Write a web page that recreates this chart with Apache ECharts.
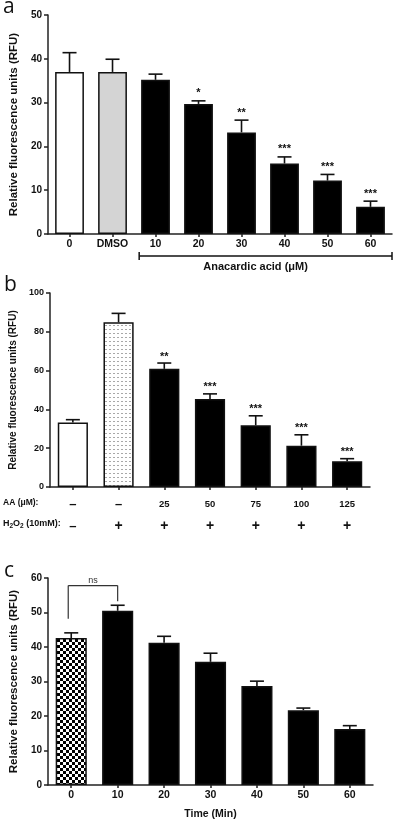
<!DOCTYPE html>
<html>
<head>
<meta charset="utf-8">
<script src="https://cdn.jsdelivr.net/npm/echarts@6/dist/echarts.min.js"></script>
<style>
  html, body { margin: 0; padding: 0; background: #fff; }
  #chart { width: 394px; height: 821px; }
</style>
</head>
<body>
<div id="chart"></div>
<script>
// panel a
var catA = ['0', 'DMSO', '10', '20', '30', '40', '50', '60'];
var meanA = [37.0, 37.0, 35.2, 29.7, 23.2, 16.1, 12.2, 6.2];
var semA = [4.4, 2.9, 1.3, 0.7, 2.8, 1.5, 1.4, 1.3];
var starA = ['', '', '', '*', '**', '***', '***', '***'];

// panel b
var aaB = ['–', '–', '25', '50', '75', '100', '125'];
var h2o2B = ['–', '+', '+', '+', '+', '+', '+'];
var meanB = [33.2, 84.9, 60.9, 45.3, 31.8, 21.3, 13.3];
var semB = [1.5, 4.6, 3.0, 2.7, 4.9, 5.6, 1.3];
var starB = ['', '', '**', '***', '***', '***', '***'];

// panel c
var catC = ['0', '10', '20', '30', '40', '50', '60'];
var meanC = [42.6, 50.5, 41.2, 35.7, 28.7, 21.7, 16.2];
var semC = [1.5, 1.6, 1.9, 2.5, 1.4, 0.6, 1.0];

var FONT = 'Liberation Sans, Arial, sans-serif';
var INK = '#111';

function pattern(kind) {
  var c = document.createElement('canvas');
  var g = c.getContext('2d');
  if (kind === 'checker') {
    c.width = 6; c.height = 6;
    g.fillStyle = '#fff'; g.fillRect(0, 0, 6, 6);
    g.fillStyle = '#000'; g.fillRect(0, 0, 3, 3); g.fillRect(3, 3, 3, 3);
  } else {
    c.width = 4; c.height = 4;
    g.fillStyle = '#fff'; g.fillRect(0, 0, 4, 4);
    g.fillStyle = '#a8a8a8'; g.fillRect(1, 1, 2, 1);
  }
  return { image: c, repeat: 'repeat' };
}

function barData(values, fills) {
  return values.map(function (v, i) {
    return { value: v, itemStyle: { color: fills[i] || '#000' } };
  });
}

function errSeries(gi, means, sems, stars, starGap) {
  return {
    type: 'custom',
    xAxisIndex: gi, yAxisIndex: gi,
    z: 5,
    data: means.map(function (m, i) { return [i, m, sems[i]]; }),
    renderItem: function (params, api) {
      var i = api.value(0), m = api.value(1), e = api.value(2);
      var base = api.coord([i, m]);
      var top = api.coord([i, m + e]);
      var ls = { stroke: INK, lineWidth: 1.6 };
      var kids = [
        { type: 'line', shape: { x1: base[0], y1: base[1], x2: top[0], y2: top[1] }, style: ls },
        { type: 'line', shape: { x1: top[0] - 7, y1: top[1], x2: top[0] + 7, y2: top[1] }, style: ls }
      ];
      var s = stars ? stars[params.dataIndex] : '';
      if (s) {
        kids.push({
          type: 'text',
          style: {
            text: s, x: top[0], y: top[1] - starGap,
            align: 'center', verticalAlign: 'bottom',
            textAlign: 'center', textVerticalAlign: 'bottom',
            font: 'bold 11px ' + FONT, fill: INK
          }
        });
      }
      return { type: 'group', children: kids };
    }
  };
}

function yAx(gi, max, interval, fs, gap, nfs) {
  return {
    gridIndex: gi, type: 'value', min: 0, max: max, interval: interval,
    name: 'Relative fluorescence units (RFU)',
    nameLocation: 'middle', nameRotate: 90, nameGap: gap,
    nameTextStyle: { fontFamily: FONT, fontWeight: 'bold', fontSize: nfs, color: INK },
    axisLine: { show: true, lineStyle: { color: '#222', width: 1.5 } },
    axisTick: { show: true, length: 4, lineStyle: { color: '#222', width: 1.5 } },
    axisLabel: { fontFamily: FONT, fontWeight: 'bold', fontSize: fs, color: INK, margin: 6 },
    splitLine: { show: false }
  };
}

function xAx(gi, cats, extra) {
  var ax = {
    gridIndex: gi, type: 'category', data: cats,
    axisLine: { show: true, onZero: false, lineStyle: { color: '#222', width: 1.5 } },
    axisTick: { show: true, alignWithLabel: true, length: 3, lineStyle: { color: '#222', width: 1.5 } },
    axisLabel: { fontFamily: FONT, fontWeight: 'bold', fontSize: 10.5, color: INK, margin: 5, interval: 0 },
    splitLine: { show: false }
  };
  if (extra) { for (var k in extra) ax[k] = extra[k]; }
  return ax;
}

var barStyle = { borderColor: INK, borderWidth: 1.5 };

var chart = echarts.init(document.getElementById('chart'), null, { renderer: 'canvas' });

chart.setOption({
  animation: false,
  backgroundColor: '#fff',
  textStyle: { fontFamily: FONT },
  grid: [
    { left: 48, right: 2, top: 15, height: 219 },
    { left: 50, right: 24, top: 293, height: 194 },
    { left: 48, right: 21, top: 578, height: 211 }
  ],
  xAxis: [
    xAx(0, catA),
    xAx(1, aaB, {
      axisLabel: {
        interval: 0, margin: 6, color: INK, fontFamily: FONT,
        formatter: function (v, idx) {
          function tag(s) {
            if (s === '+') return '{p|+}';
            if (s === '–') return '{m|–}';
            return '{n|' + s + '}';
          }
          return tag(aaB[idx]) + '\n' + tag(h2o2B[idx]);
        },
        rich: {
          n: { fontFamily: FONT, fontWeight: 'bold', fontSize: 9.5, color: INK, lineHeight: 22 },
          m: { fontFamily: FONT, fontWeight: 'bold', fontSize: 13, color: INK, lineHeight: 22 },
          p: { fontFamily: FONT, fontWeight: 'bold', fontSize: 14, color: INK, lineHeight: 22 }
        }
      }
    }),
    xAx(2, catC, {
      name: 'Time (Min)', nameLocation: 'middle', nameGap: 24,
      nameTextStyle: { fontFamily: FONT, fontWeight: 'bold', fontSize: 10.5, color: INK }
    })
  ],
  yAxis: [
    yAx(0, 50, 10, 10, 25, 11.5),
    yAx(1, 100, 20, 9, 27, 10),
    yAx(2, 60, 10, 10, 25, 11.5)
  ],
  graphic: [
    { type: 'text', left: 3, top: -3, style: { text: 'a', font: '21px Open Sans, ' + FONT, fill: INK } },
    { type: 'text', left: 4, top: 275, style: { text: 'b', font: '21px Open Sans, ' + FONT, fill: INK } },
    { type: 'text', left: 4, top: 561, style: { text: 'c', font: '21px Open Sans, ' + FONT, fill: INK } },
    { type: 'text', left: 3, top: 498, style: { text: 'AA (μM):', font: 'bold 8.5px ' + FONT, fill: INK } },
    {
      type: 'text', left: 3, top: 519,
      style: {
        text: 'H{s|2}O{s|2} (10mM):', font: 'bold 9px ' + FONT, fill: INK,
        rich: { s: { fontFamily: FONT, fontWeight: 'bold', fontSize: 6.5, fill: INK, padding: [5, 0, 0, 0] } }
      }
    }
  ],
  series: [
    {
      type: 'bar', xAxisIndex: 0, yAxisIndex: 0, barWidth: '67%',
      itemStyle: barStyle,
      data: barData(meanA, ['#fff', '#d4d4d4'])
    },
    errSeries(0, meanA, semA, starA, 2),
    {
      // bracket under the anacardic acid doses
      type: 'custom', xAxisIndex: 0, yAxisIndex: 0, z: 5,
      data: [[2, 7]],
      renderItem: function (params, api) {
        var band = api.size([1, 0])[0];
        var p1 = api.coord([api.value(0), 0]);
        var p2 = api.coord([api.value(1), 0]);
        var x1 = p1[0] - band * 0.38, x2 = p2[0] + band * 0.5, y = p1[1] + 22;
        var ls = { stroke: INK, lineWidth: 1.5 };
        return {
          type: 'group', children: [
            { type: 'line', shape: { x1: x1, y1: y, x2: x2, y2: y }, style: ls },
            { type: 'line', shape: { x1: x1, y1: y - 4, x2: x1, y2: y + 4 }, style: ls },
            { type: 'line', shape: { x1: x2, y1: y - 4, x2: x2, y2: y + 4 }, style: ls },
            {
              type: 'text', style: {
                text: 'Anacardic acid (μM)', x: (x1 + x2) / 2 - 10, y: y + 11,
                align: 'center', verticalAlign: 'middle',
                textAlign: 'center', textVerticalAlign: 'middle',
                font: 'bold 11px ' + FONT, fill: INK
              }
            }
          ]
        };
      }
    },
    {
      type: 'bar', xAxisIndex: 1, yAxisIndex: 1, barWidth: '66%',
      itemStyle: barStyle,
      data: barData(meanB, ['#fff', pattern('dots')])
    },
    errSeries(1, meanB, semB, starB, 1),
    {
      type: 'bar', xAxisIndex: 2, yAxisIndex: 2, barWidth: '67%',
      itemStyle: barStyle,
      data: barData(meanC, [pattern('checker')])
    },
    errSeries(2, meanC, semC, null, 0),
    {
      // "ns" comparison bracket between 0 and 10 min
      type: 'custom', xAxisIndex: 2, yAxisIndex: 2, z: 5,
      data: [[0, 1]],
      renderItem: function (params, api) {
        var a = api.value(0), b = api.value(1);
        var pa = api.coord([a, meanC[a] + semC[a]]);
        var pb = api.coord([b, meanC[b] + semC[b]]);
        var yTop = api.coord([a, 57.8])[1];
        var xa = pa[0] - 3, xb = pb[0];
        var ls = { stroke: '#333', lineWidth: 1.2 };
        return {
          type: 'group', children: [
            { type: 'line', shape: { x1: xa, y1: pa[1] - 14, x2: xa, y2: yTop }, style: ls },
            { type: 'line', shape: { x1: xa, y1: yTop, x2: xb, y2: yTop }, style: ls },
            { type: 'line', shape: { x1: xb, y1: yTop, x2: xb, y2: pb[1] - 4 }, style: ls },
            {
              type: 'text', style: {
                text: 'ns', x: (xa + xb) / 2, y: yTop - 1,
                align: 'center', verticalAlign: 'bottom',
                textAlign: 'center', textVerticalAlign: 'bottom',
                font: '9px ' + FONT, fill: '#333'
              }
            }
          ]
        };
      }
    }
  ]
});
</script>
</body>
</html>
